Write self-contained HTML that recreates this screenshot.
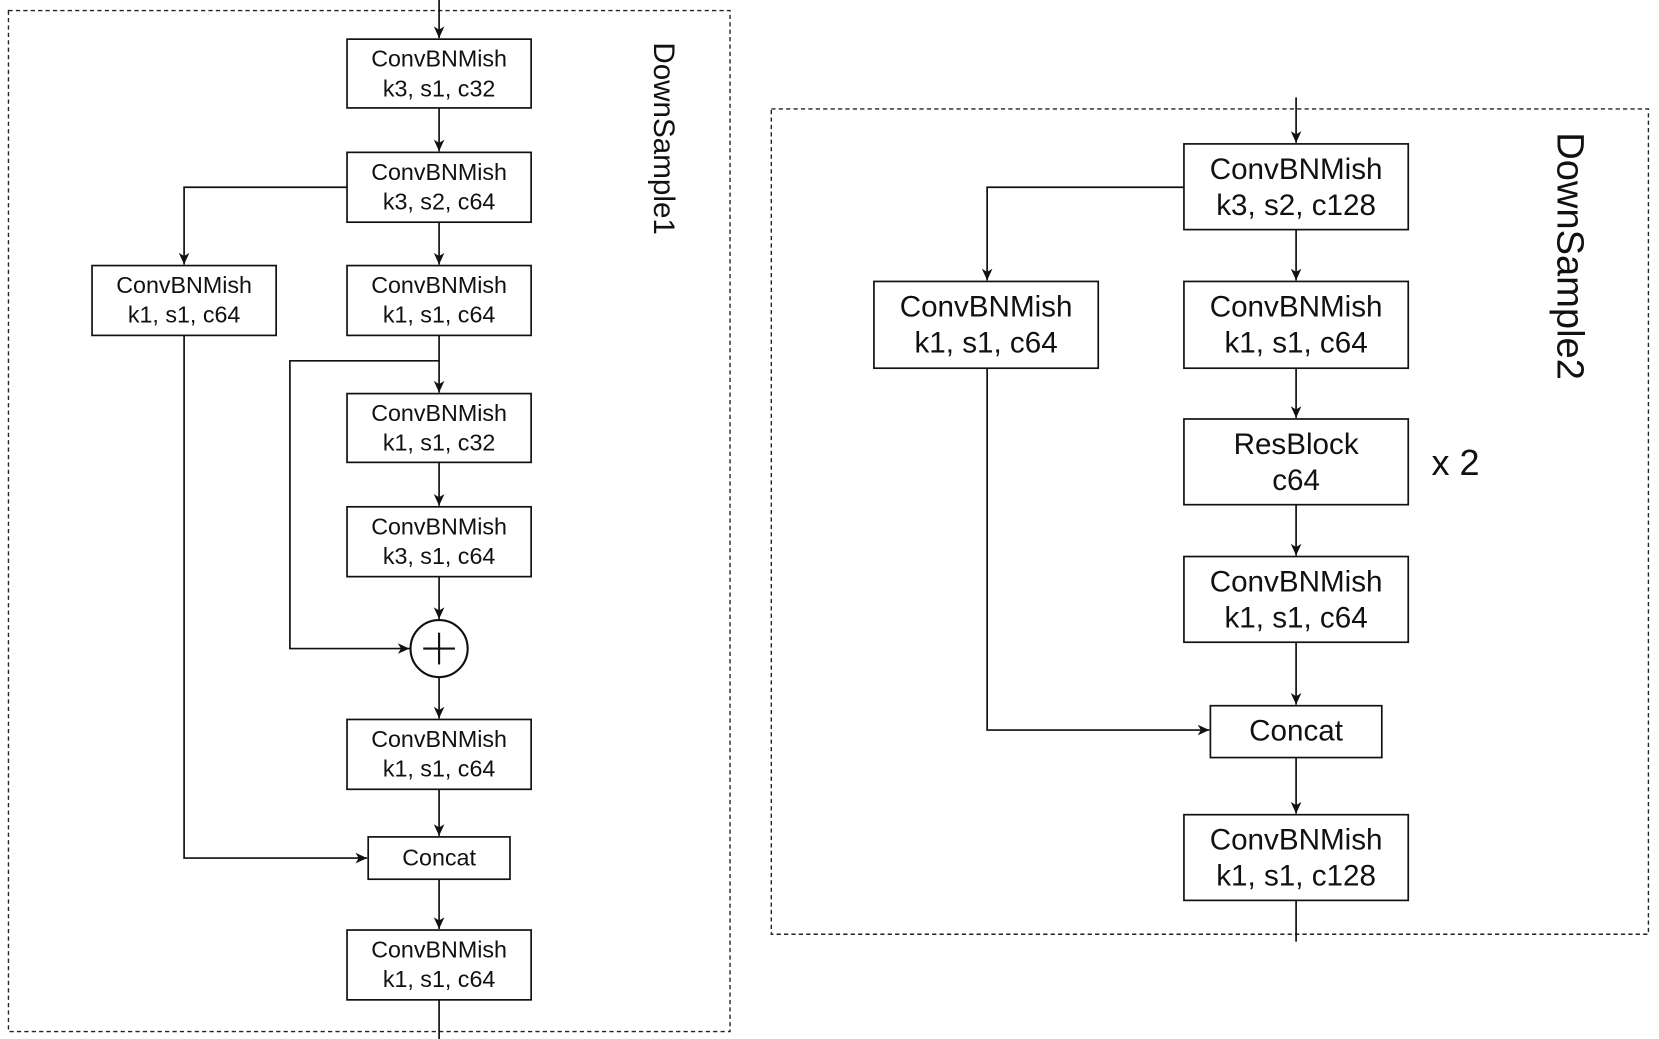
<!DOCTYPE html>
<html><head><meta charset="utf-8"><style>
html,body{margin:0;padding:0;background:#fff;}
svg{display:block;}
text{font-family:"Liberation Sans",Arial,sans-serif;fill:#111;}
</style></head><body>
<svg width="1659" height="1039" viewBox="0 0 1568 982" xmlns="http://www.w3.org/2000/svg">
<defs>
<marker id="a" markerWidth="12" markerHeight="12" refX="11" refY="5" orient="auto" markerUnits="userSpaceOnUse">
<path d="M0,0 L11,5 L0,10 L3,5 Z" fill="#111"/>
</marker>
</defs>
<g fill="none" stroke="#222" stroke-width="1.3" stroke-dasharray="4,3">
<rect x="8" y="10" width="682" height="965"/>
<rect x="729" y="103" width="829" height="780"/>
</g>
<!-- Left panel -->
<g stroke="#111" stroke-width="1.6" fill="none">
<line x1="415" y1="0" x2="415" y2="36" marker-end="url(#a)"/>
<line x1="415" y1="102" x2="415" y2="143" marker-end="url(#a)"/>
<line x1="415" y1="210" x2="415" y2="250" marker-end="url(#a)"/>
<polyline points="328,177 174,177 174,250" marker-end="url(#a)"/>
<line x1="415" y1="317" x2="415" y2="371" marker-end="url(#a)"/>
<line x1="415" y1="437" x2="415" y2="478" marker-end="url(#a)"/>
<line x1="415" y1="545" x2="415" y2="585" marker-end="url(#a)"/>
<polyline points="415,341 274,341 274,613 387,613" marker-end="url(#a)"/>
<line x1="415" y1="640" x2="415" y2="679" marker-end="url(#a)"/>
<line x1="415" y1="746" x2="415" y2="790" marker-end="url(#a)"/>
<polyline points="174,317 174,811 347,811" marker-end="url(#a)"/>
<line x1="415" y1="831" x2="415" y2="878" marker-end="url(#a)"/>
<line x1="415" y1="945" x2="415" y2="982"/>
<circle cx="415" cy="613" r="27" stroke-width="2"/>
<line x1="400" y1="613" x2="430" y2="613" stroke-width="2"/>
<line x1="415" y1="598" x2="415" y2="628" stroke-width="2"/>
</g>
<g fill="#fff" stroke="#111" stroke-width="1.6">
<rect x="328" y="37" width="174" height="65"/>
<rect x="328" y="144" width="174" height="66"/>
<rect x="328" y="251" width="174" height="66"/>
<rect x="87" y="251" width="174" height="66"/>
<rect x="328" y="372" width="174" height="65"/>
<rect x="328" y="479" width="174" height="66"/>
<rect x="328" y="680" width="174" height="66"/>
<rect x="348" y="791" width="134" height="40"/>
<rect x="328" y="879" width="174" height="66"/>
</g>
<g font-size="22" text-anchor="middle">
<text x="415" y="63">ConvBNMish</text><text x="415" y="91">k3, s1, c32</text>
<text x="415" y="170">ConvBNMish</text><text x="415" y="198">k3, s2, c64</text>
<text x="415" y="277">ConvBNMish</text><text x="415" y="305">k1, s1, c64</text>
<text x="174" y="277">ConvBNMish</text><text x="174" y="305">k1, s1, c64</text>
<text x="415" y="398">ConvBNMish</text><text x="415" y="426">k1, s1, c32</text>
<text x="415" y="505">ConvBNMish</text><text x="415" y="533">k3, s1, c64</text>
<text x="415" y="706">ConvBNMish</text><text x="415" y="734">k1, s1, c64</text>
<text x="415" y="818">Concat</text>
<text x="415" y="905">ConvBNMish</text><text x="415" y="933">k1, s1, c64</text>
</g>
<text x="0" y="0" font-size="28" transform="translate(618,40) rotate(90)">DownSample1</text>
<!-- Right panel -->
<g stroke="#111" stroke-width="1.6" fill="none">
<line x1="1225" y1="92" x2="1225" y2="135" marker-end="url(#a)"/>
<polyline points="1119,177 933,177 933,265" marker-end="url(#a)"/>
<line x1="1225" y1="217" x2="1225" y2="265" marker-end="url(#a)"/>
<line x1="1225" y1="348" x2="1225" y2="395" marker-end="url(#a)"/>
<line x1="1225" y1="477" x2="1225" y2="525" marker-end="url(#a)"/>
<line x1="1225" y1="607" x2="1225" y2="666" marker-end="url(#a)"/>
<polyline points="933,348 933,690 1143,690" marker-end="url(#a)"/>
<line x1="1225" y1="716" x2="1225" y2="769" marker-end="url(#a)"/>
<line x1="1225" y1="851" x2="1225" y2="890"/>
</g>
<g fill="#fff" stroke="#111" stroke-width="1.6">
<rect x="1119" y="136" width="212" height="81"/>
<rect x="826" y="266" width="212" height="82"/>
<rect x="1119" y="266" width="212" height="82"/>
<rect x="1119" y="396" width="212" height="81"/>
<rect x="1119" y="526" width="212" height="81"/>
<rect x="1144" y="667" width="162" height="49"/>
<rect x="1119" y="770" width="212" height="81"/>
</g>
<g font-size="28" text-anchor="middle">
<text x="1225" y="169">ConvBNMish</text><text x="1225" y="203">k3, s2, c128</text>
<text x="932" y="299">ConvBNMish</text><text x="932" y="333">k1, s1, c64</text>
<text x="1225" y="299">ConvBNMish</text><text x="1225" y="333">k1, s1, c64</text>
<text x="1225" y="429">ResBlock</text><text x="1225" y="463">c64</text>
<text x="1225" y="559">ConvBNMish</text><text x="1225" y="593">k1, s1, c64</text>
<text x="1225" y="700">Concat</text>
<text x="1225" y="803">ConvBNMish</text><text x="1225" y="837">k1, s1, c128</text>
</g>
<text x="1353" y="449" font-size="34">x 2</text>
<text x="0" y="0" font-size="36" transform="translate(1472,125) rotate(90)">DownSample2</text>
</svg>
</body></html>
